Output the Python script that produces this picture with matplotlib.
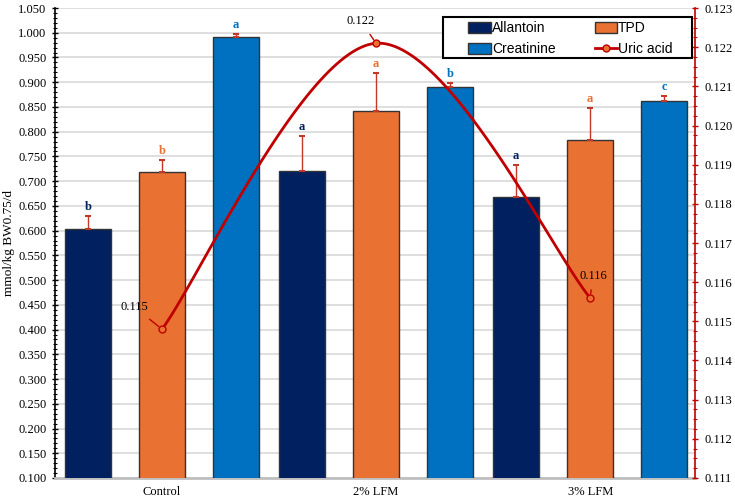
import numpy as np
import matplotlib.pyplot as plt
from matplotlib.ticker import MultipleLocator, FormatStrFormatter
from matplotlib.patches import Patch, Rectangle
from matplotlib.lines import Line2D

# data
groups = ['Control', '2% LFM', '3% LFM']
allantoin = [0.603, 0.721, 0.667]
allantoin_err = [0.026, 0.070, 0.065]
allantoin_sig = ['b', 'a', 'a']
tpd = [0.718, 0.842, 0.783]
tpd_err = [0.025, 0.077, 0.065]
tpd_sig = ['b', 'a', 'a']
creatinine = [0.992, 0.891, 0.862]
creatinine_err = [0.006, 0.008, 0.010]
creatinine_sig = ['a', 'b', 'c']
uric_acid = [0.1148, 0.1221, 0.1156]
uric_labels = ['0.115', '0.122', '0.116']

c_all = '#002060'
c_tpd = '#E97132'
c_cre = '#0070C0'
c_uric = '#C00000'
c_err = '#C0392B'

serif = 'Liberation Serif'
sans = 'Liberation Sans'

fig = plt.figure(figsize=(7.35, 5.04), dpi=100)
ax = fig.add_axes([0.0748, 0.0516, 0.8708, 0.9325])

x = np.arange(len(groups))
off = 0.346
w = 0.215

series = [
    (allantoin, allantoin_err, allantoin_sig, c_all, -off),
    (tpd, tpd_err, tpd_sig, c_tpd, 0.0),
    (creatinine, creatinine_err, creatinine_sig, c_cre, off),
]
for vals, errs, sig, col, dx in series:
    ax.bar(x + dx, vals, w, color=col, edgecolor='#333333', linewidth=1.0, zorder=3)
    ax.errorbar(x + dx, vals, yerr=[np.zeros(len(vals)), errs], fmt='none',
                ecolor=c_err, elinewidth=1.0, capsize=2.5, capthick=1.5, zorder=4)
    for xi, v, e, s in zip(x + dx, vals, errs, sig):
        ax.text(xi, v + e + 0.006, s, ha='center', va='bottom', color=col,
                fontsize=9, fontweight='bold', family=serif, zorder=5)

ax.set_xlim(-0.5, 2.49)
ax.set_ylim(0.1, 1.05)
ax.yaxis.set_major_locator(MultipleLocator(0.05))
ax.yaxis.set_minor_locator(MultipleLocator(0.01))
ax.yaxis.set_major_formatter(FormatStrFormatter('%.3f'))
ax.set_xticks(x)
ax.set_xticklabels(groups, family=serif, fontsize=9)
ax.tick_params(axis='x', length=0, pad=6)
ax.tick_params(axis='y', which='major', direction='inout', length=5, width=1, labelsize=9)
ax.tick_params(axis='y', which='minor', direction='inout', length=3, width=0.8)
for lab in ax.get_yticklabels():
    lab.set_family(serif)
ax.grid(axis='y', color='#d9d9d9', linewidth=1.2, zorder=0)
ax.set_axisbelow(True)
ax.spines['top'].set_visible(False)
ax.spines['right'].set_visible(False)
ax.spines['left'].set_color('black')
ax.spines['left'].set_linewidth(1.2)
ax.spines['bottom'].set_color('#bfbfbf')
ax.spines['bottom'].set_linewidth(2.0)
ax.set_ylabel('mmol/kg BW0.75/d', family=serif, fontsize=9.5, labelpad=2)

# secondary axis for uric acid
ax2 = ax.twinx()
ax2.set_ylim(0.111, 0.123)
ax2.yaxis.set_major_locator(MultipleLocator(0.001))
ax2.yaxis.set_minor_locator(MultipleLocator(0.00025))
ax2.yaxis.set_major_formatter(FormatStrFormatter('%.3f'))
ax2.tick_params(axis='y', which='major', direction='inout', length=5, width=1,
                color=c_uric, labelsize=9, pad=4)
ax2.tick_params(axis='y', which='minor', direction='inout', length=3, width=0.8, color=c_uric)
for lab in ax2.get_yticklabels():
    lab.set_family(serif)
for s in ['top', 'left', 'bottom']:
    ax2.spines[s].set_visible(False)
ax2.spines['right'].set_color(c_uric)
ax2.spines['right'].set_linewidth(1.2)

# smoothed line (catmull-rom through the three points, like excel smoothing)
px = np.array(x, dtype=float)
py = np.array(uric_acid)
P = np.vstack([px, py]).T
P = np.vstack([P[0], P, P[-1]])
cx, cy = [], []
t = np.linspace(0, 1, 60)
for i in range(1, len(P) - 2):
    p0, p1, p2, p3 = P[i - 1], P[i], P[i + 1], P[i + 2]
    seg = 0.5 * ((2 * p1)[None, :] + (-p0 + p2)[None, :] * t[:, None]
                 + (2 * p0 - 5 * p1 + 4 * p2 - p3)[None, :] * t[:, None] ** 2
                 + (-p0 + 3 * p1 - 3 * p2 + p3)[None, :] * t[:, None] ** 3)
    cx.extend(seg[:, 0]); cy.extend(seg[:, 1])
ax2.plot(cx, cy, color=c_uric, linewidth=2.0, zorder=3)
ax2.plot(px, py, 'o', markersize=5, markerfacecolor=c_tpd, markeredgecolor=c_uric,
         markeredgewidth=1.0, zorder=4)

label_off = [(-20, 16), (-11, 16), (2, 16)]
for xi, yi, lab, o in zip(px, py, uric_labels, label_off):
    ax2.annotate(lab, (xi, yi), xytext=o, textcoords='offset points', ha='center',
                 va='center', fontsize=9, family=serif,
                 arrowprops=dict(arrowstyle='-', color=c_uric, lw=1.0, shrinkA=4, shrinkB=3))

# legend box drawn separately, the entries sit centred inside it
ax2.add_patch(Rectangle((0.606, 0.894), 0.389, 0.087, transform=ax2.transAxes,
                        facecolor='white', edgecolor='black', linewidth=1.5, zorder=9))
# column-major fill gives rows: Allantoin/TPD, Creatinine/Uric acid
handles = [
    Patch(facecolor=c_all, edgecolor='#333333', label='Allantoin'),
    Patch(facecolor=c_cre, edgecolor='#333333', label='Creatinine'),
    Patch(facecolor=c_tpd, edgecolor='#333333', label='TPD'),
    Line2D([], [], color=c_uric, lw=2, marker='o', markersize=5,
           markerfacecolor=c_tpd, markeredgecolor=c_uric, label='Uric acid'),
]
leg = ax2.legend(handles=handles, ncol=2, loc='upper left', bbox_to_anchor=(0.646, 0.972),
                 frameon=False, prop={'family': sans, 'size': 10}, handlelength=1.6,
                 handleheight=0.8, handletextpad=0.1, columnspacing=2.8, borderpad=0.0,
                 labelspacing=0.5, borderaxespad=0.0)
leg.set_zorder(10)

fig.savefig('out.png', dpi=100)
